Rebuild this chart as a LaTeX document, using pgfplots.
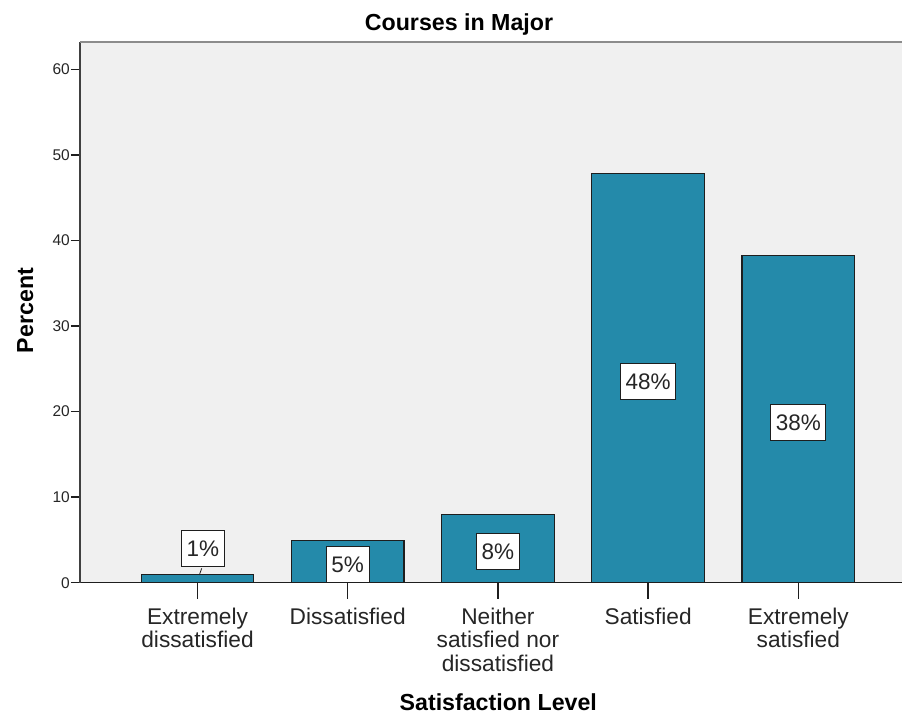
\documentclass[border=0pt]{standalone}
\usepackage{fontspec}
\setmainfont{Liberation Sans}
\usepackage{pgfplots}
\pgfplotsset{compat=1.18}
\definecolor{barblue}{RGB}{36,138,170}
\definecolor{plotbg}{RGB}{240,240,240}
\definecolor{edge}{RGB}{30,30,30}
\definecolor{topline}{RGB}{140,140,140}
\begin{document}
\begin{tikzpicture}
\path[use as bounding box] (0,0) rectangle (902pt,716pt);
\begin{axis}[
  at={(80pt,133.3pt)}, anchor=south west,
  width=822pt, height=540.7pt, scale only axis,
  xmin=0.2177, xmax=5.690, ymin=0, ymax=63.19,
  axis x line*=bottom, axis y line*=left,
  x axis line style={draw=edge, line width=1.3pt},
  y axis line style={draw=edge!85, line width=1.3pt},
  axis background/.style={fill=plotbg},
  tick align=outside,
  major tick length=9pt,
  xtick={1,2,3,4,5},
  xticklabels={{Extremely\\dissatisfied},{Dissatisfied},{Neither\\satisfied nor\\dissatisfied},{Satisfied},{Extremely\\satisfied}},
  xtick style={draw=edge, line width=1.3pt, /pgfplots/major tick length=16pt},
  ytick={0,10,20,30,40,50,60},
  ytick style={draw=edge, line width=1.3pt},
  /pgf/number format/assume math mode=true,
  yticklabel style={font=\fontsize{15.5}{18}\selectfont, text=black!85, inner xsep=1pt},
  xticklabel style={font=\fontsize{22.7}{23.5}\selectfont, text=black!85, align=center, inner ysep=4pt, yshift=-12pt},
  clip=false,
]
\addplot[ybar, bar width=0.75, fill=barblue, draw=edge, line width=1.2pt]
  coordinates {(1,1.0) (2,4.9) (3,8.0) (4,47.8) (5,38.2)};
\draw[topline, line width=2pt] (rel axis cs:0,1) -- (rel axis cs:1,1);
\draw[edge, line width=0.8pt] (axis cs:1.028,1.68) -- (axis cs:1.012,0.9);
\addplot[draw=none, mark=none, nodes near coords, point meta=explicit symbolic,
  nodes near coords align={anchor=center},
  every node near coord/.style={anchor=center, fill=white, draw=edge, line width=0.8pt,
    font=\fontsize{22.5}{24}\selectfont, text=black!85, inner xsep=5pt, inner ysep=10pt,
    text height=16pt, text depth=0pt}]
  coordinates {(1.035,3.97)[1\%] (2,2.1)[5\%] (3,3.67)[8\%] (4,23.53)[48\%] (5,18.7)[38\%]};
\end{axis}
\node[anchor=base, font=\fontsize{23.2}{26}\selectfont\bfseries] at (459pt,685.3pt) {Courses in Major};
\node[anchor=base, rotate=90, font=\fontsize{23.2}{26}\selectfont\bfseries] at (33pt,405.5pt) {Percent};
\node[anchor=base, font=\fontsize{23.2}{26}\selectfont\bfseries] at (498.3pt,6pt) {Satisfaction Level};
\end{tikzpicture}
\end{document}
